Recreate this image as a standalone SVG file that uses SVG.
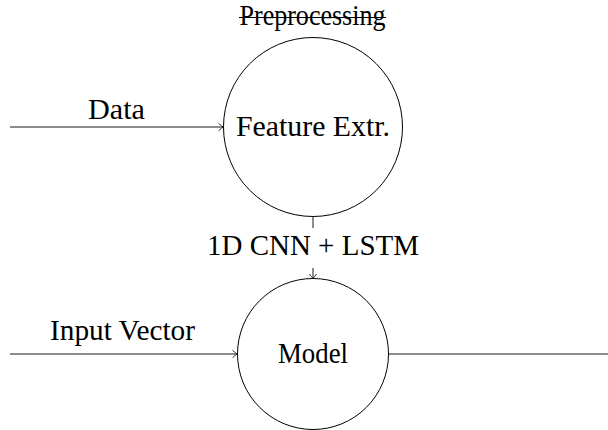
<svg xmlns="http://www.w3.org/2000/svg" width="608" height="430" viewBox="0 0 608 430">
<style>
text{font-family:"Liberation Serif","DejaVu Serif",serif;font-size:29px;fill:#000}
.node{fill:none;stroke:#000;stroke-width:1}
.edge{fill:none;stroke:#000;stroke-width:0.9}
</style>
<defs>
<marker id="arr" viewBox="-6 -5 8 10" refX="0" refY="0" markerWidth="8" markerHeight="10" markerUnits="userSpaceOnUse" orient="auto">
<path d="M-4.5,-3.6 Q-1.2,-1 0,0 Q-1.2,1 -4.5,3.6" fill="none" stroke="#000" stroke-width="0.8"/>
</marker>
</defs>
<rect width="608" height="430" fill="#fff"/>
<g id="edges">
<line class="edge" x1="10" y1="127" x2="223" y2="127" marker-end="url(#arr)"/>
<text x="116.5" y="119" text-anchor="middle" textLength="57" lengthAdjust="spacingAndGlyphs">Data</text>
<line class="edge" x1="10" y1="354" x2="237" y2="354" marker-end="url(#arr)"/>
<text x="122.5" y="340" text-anchor="middle" textLength="145" lengthAdjust="spacingAndGlyphs">Input Vector</text>
<line class="edge" x1="313" y1="216.5" x2="313" y2="228"/>
<line class="edge" x1="313" y1="268" x2="313" y2="278.5" marker-end="url(#arr)"/>
<text x="313" y="255" text-anchor="middle" textLength="212" lengthAdjust="spacingAndGlyphs">1D CNN + LSTM</text>
<line class="edge" x1="388" y1="354" x2="608" y2="354"/>
</g>
<g id="feature">
<circle class="node" cx="313" cy="127" r="89.5"/>
<text x="313" y="136" text-anchor="middle" textLength="154" lengthAdjust="spacingAndGlyphs">Feature Extr.</text>
<text x="312.5" y="24.5" text-anchor="middle" font-size="24" textLength="146" lengthAdjust="spacingAndGlyphs">Preprocessing</text>
<line x1="239" y1="17.5" x2="386" y2="17.5" stroke="#000" stroke-width="1"/>
</g>
<g id="model">
<circle class="node" cx="313" cy="354" r="75.5"/>
<text x="313" y="363" text-anchor="middle" textLength="70" lengthAdjust="spacingAndGlyphs">Model</text>
</g>
</svg>
